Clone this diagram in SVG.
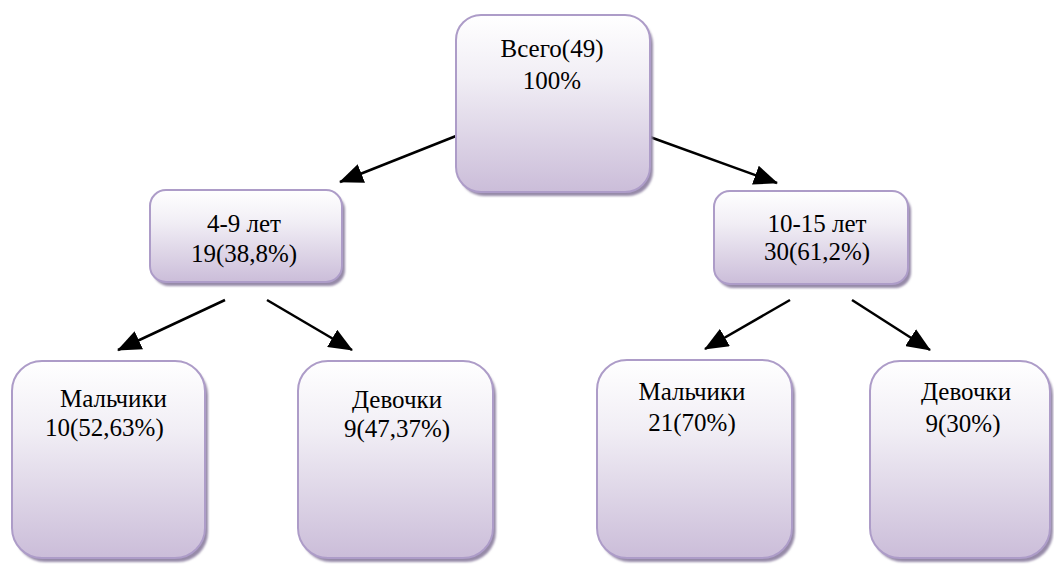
<svg xmlns="http://www.w3.org/2000/svg" width="1054" height="565" viewBox="0 0 1054 565">
<defs>
<linearGradient id="g" x1="0" y1="0" x2="0" y2="1">
<stop offset="0" stop-color="#ffffff"/>
<stop offset="0.35" stop-color="#f1eef5"/>
<stop offset="1" stop-color="#cbbdd9"/>
</linearGradient>
<filter id="sh" x="-10%" y="-10%" width="130%" height="130%">
<feGaussianBlur stdDeviation="1.2"/>
</filter>
<marker id="ah" markerUnits="userSpaceOnUse" markerWidth="24" markerHeight="20" viewBox="0 0 24 20" refX="23" refY="10" orient="auto">
<path d="M0,0 L24,10 L0,20 Z" fill="#000"/>
</marker>
</defs>
<style>
.sh{fill:#968aa8;filter:url(#sh)}
.bx{fill:url(#g);stroke:#ad9cc8;stroke-width:2}
.c{text-anchor:middle}
.ln{stroke:#000;stroke-width:2.5;fill:none;marker-end:url(#ah)}
</style>
<g id="connectors">
<line class="ln" x1="456" y1="136" x2="340" y2="182"/>
<line class="ln" x1="650" y1="137" x2="777" y2="183"/>
<line class="ln" x1="225" y1="300" x2="118" y2="350"/>
<line class="ln" x1="267" y1="300" x2="352" y2="350"/>
<line class="ln" x1="790" y1="300" x2="705" y2="349"/>
<line class="ln" x1="852" y1="300" x2="930" y2="350"/>
</g>
<g font-family="'Liberation Serif', 'DejaVu Serif', 'Times New Roman', serif" font-size="25" fill="#000">
<g id="n-total">
<rect class="sh" x="459" y="19" width="194" height="177" rx="25"/>
<rect class="bx" x="456" y="15" width="194" height="177" rx="25"/>
<text class="c" x="552" y="57">Всего(49)</text>
<text class="c" x="552" y="89">100%</text>
</g>
<g id="n-4-9">
<rect class="sh" x="153" y="194" width="192" height="92" rx="16"/>
<rect class="bx" x="150" y="190" width="192" height="92" rx="16"/>
<text class="c" x="244" y="232">4-9 лет</text>
<text class="c" x="244" y="262">19(38,8%)</text>
</g>
<g id="n-10-15">
<rect class="sh" x="717" y="195" width="194" height="93" rx="16"/>
<rect class="bx" x="714" y="191" width="194" height="93" rx="16"/>
<text class="c" x="817" y="232">10-15 лет</text>
<text class="c" x="817" y="260">30(61,2%)</text>
</g>
<g id="n-boys-1">
<rect class="sh" x="15" y="365" width="193" height="197" rx="30"/>
<rect class="bx" x="12" y="361" width="193" height="197" rx="30"/>
<text x="60" y="407">Мальчики</text>
<text x="45" y="436">10(52,63%)</text>
</g>
<g id="n-girls-1">
<rect class="sh" x="301" y="365" width="195" height="197" rx="30"/>
<rect class="bx" x="298" y="361" width="195" height="197" rx="30"/>
<text class="c" x="397" y="408">Девочки</text>
<text class="c" x="397" y="437">9(47,37%)</text>
</g>
<g id="n-boys-2">
<rect class="sh" x="600" y="364" width="195" height="198" rx="30"/>
<rect class="bx" x="597" y="360" width="195" height="198" rx="30"/>
<text class="c" x="692" y="400">Мальчики</text>
<text class="c" x="692" y="431">21(70%)</text>
</g>
<g id="n-girls-2">
<rect class="sh" x="873" y="365" width="180" height="197" rx="30"/>
<rect class="bx" x="870" y="361" width="180" height="197" rx="30"/>
<text class="c" x="966" y="400">Девочки</text>
<text class="c" x="963" y="432">9(30%)</text>
</g>
</g>
</svg>
